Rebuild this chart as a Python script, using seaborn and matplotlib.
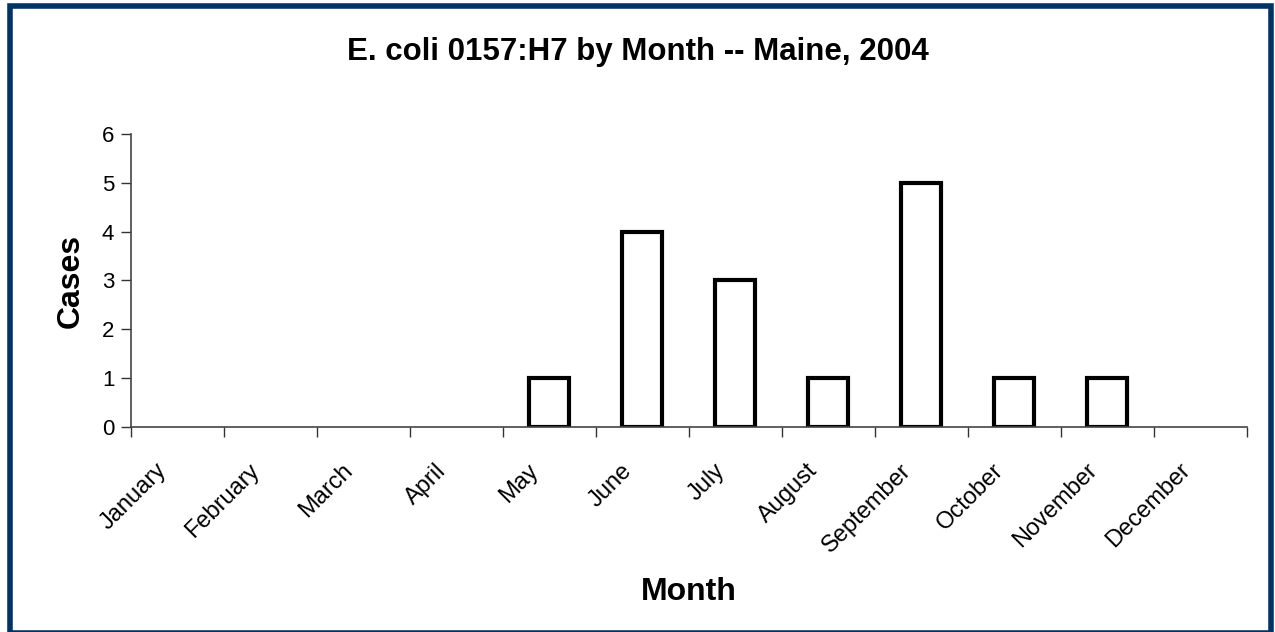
import numpy as np
import pandas as pd
import matplotlib
matplotlib.use("Agg")
import matplotlib.pyplot as plt
from matplotlib.patches import Rectangle
from matplotlib.transforms import ScaledTranslation
import seaborn as sns

months = ["January", "February", "March", "April", "May", "June", "July",
          "August", "September", "October", "November", "December"]
cases = [0, 0, 0, 0, 1, 4, 3, 1, 5, 1, 1, 0]

df = pd.DataFrame({"Month": months, "Cases": cases})

sns.set_style("white")
plt.rcParams["font.family"] = ["Liberation Sans", "DejaVu Sans"]
plt.rcParams["text.color"] = "black"
plt.rcParams["axes.labelcolor"] = "black"
plt.rcParams["xtick.color"] = "black"
plt.rcParams["ytick.color"] = "black"

fig = plt.figure(figsize=(12.75, 6.32), dpi=100)
ax = fig.add_axes([0.1027, 0.3244, 0.8753, 0.4636])

sns.barplot(data=df, x="Month", y="Cases", ax=ax, color="white",
            edgecolor="black", linewidth=3, width=0.43, saturation=1)

# empty months show no bar outline
for p in ax.patches:
    if p.get_height() == 0:
        p.set_visible(False)

ax.set_xlim(-0.5, len(months) - 0.5)
ax.set_ylim(0, 6)
ax.set_yticks(range(0, 7))
ax.tick_params(axis="y", labelsize=16, length=7, width=1, direction="out",
               left=True, color="#333333", pad=5)

# category labels rotated, tick marks between categories
ax.set_xticks(np.arange(len(months)))
ax.set_xticklabels(months, rotation=45, ha="right", va="center",
                   rotation_mode="anchor")
ax.tick_params(axis="x", which="major", length=0, labelsize=17, pad=29)
ax.set_xticks(np.arange(-0.5, len(months)), minor=True)
ax.tick_params(axis="x", which="minor", length=7, width=1, color="#333333",
               direction="out", bottom=True)
shift = ScaledTranslation(-14 / 100, 0, fig.dpi_scale_trans)
for lab in ax.get_xticklabels():
    lab.set_transform(lab.get_transform() + shift)

for s in ["top", "right"]:
    ax.spines[s].set_visible(False)
for s in ["left", "bottom"]:
    ax.spines[s].set_color("#444444")
    ax.spines[s].set_linewidth(1.2)

ax.set_xlabel("Month", fontsize=23, fontweight="bold", va="center")
ax.xaxis.set_label_coords(0.5, -0.562)
ax.set_ylabel("Cases", fontsize=23, fontweight="bold", va="center")
ax.yaxis.set_label_coords(-0.0535, 0.5)
fig.suptitle("E. coli 0157:H7 by Month -- Maine, 2004", fontsize=22.5,
             fontweight="bold", y=0.942)

# dark blue frame round the whole picture
fig.patches.append(Rectangle((0.0075, -0.0015), 0.9895, 0.9915, transform=fig.transFigure,
                             fill=False, edgecolor="#003366", linewidth=4))

fig.savefig("out.png", dpi=100)
